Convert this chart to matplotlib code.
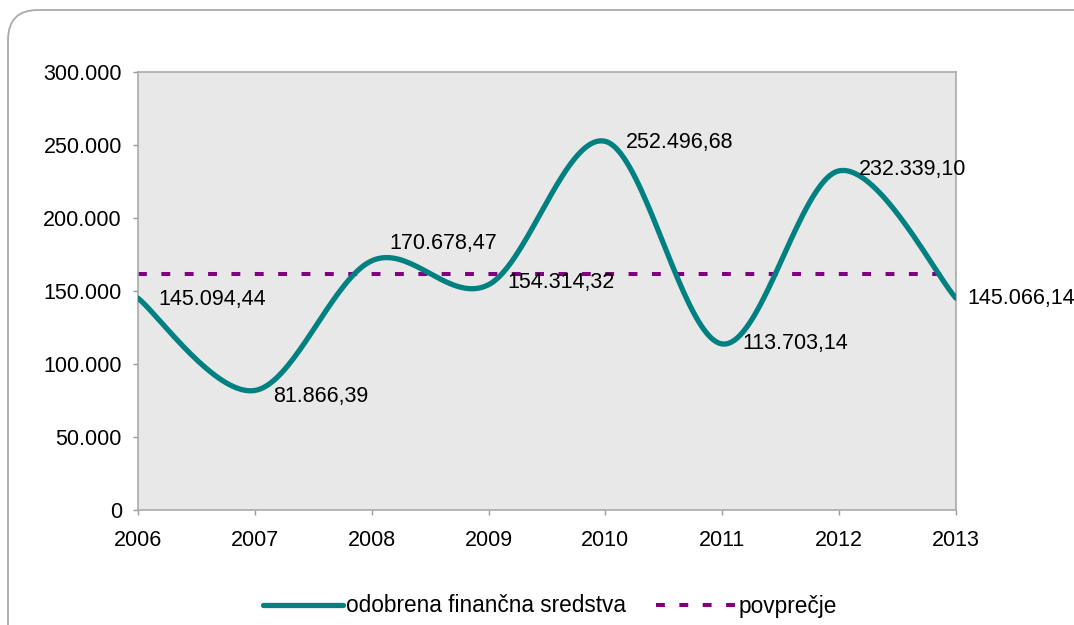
import numpy as np
import matplotlib
matplotlib.use("Agg")
import matplotlib.pyplot as plt
from matplotlib.patches import FancyBboxPatch
from matplotlib.lines import Line2D
from matplotlib.ticker import FuncFormatter
from matplotlib.transforms import IdentityTransform

plt.rcParams['font.family'] = ['Liberation Sans', 'DejaVu Sans']

# ---- data ----
years = [2006, 2007, 2008, 2009, 2010, 2011, 2012, 2013]
values = [145094.44, 81866.39, 170678.47, 154314.32, 252496.68, 113703.14, 232339.10, 145066.14]
labels = ["145.094,44", "81.866,39", "170.678,47", "154.314,32",
          "252.496,68", "113.703,14", "232.339,10", "145.066,14"]
average = 161944.84
y_ticks = [0, 50000, 100000, 150000, 200000, 250000, 300000]
series_name = "odobrena finančna sredstva"
avg_name = "povprečje"

# label offsets in pixels (dx, dy)
label_offsets = [(20, -1), (18, -6), (18, 17), (19, 2), (20, -1), (20, 0), (20, 1), (11, 0)]

W, H = 1074, 625
fig = plt.figure(figsize=(W / 100, H / 100), dpi=100)

# outer rounded frame (pixel coordinates)
frame = FancyBboxPatch((8, -60), W + 60, H - 10 + 60,
                       boxstyle="round,pad=0,rounding_size=30",
                       transform=IdentityTransform(), facecolor="none",
                       edgecolor="#aaaaaa", linewidth=1.3, zorder=-1)
fig.patches.append(frame)

ax = fig.add_axes([138 / W, (H - 510) / H, (956 - 138) / W, (510 - 72) / H])
ax.set_facecolor("#e8e8e8")

# smoothed curve (Catmull-Rom style cubic Bezier like Excel smoothing)
x = np.array(years, dtype=float)
y = np.array(values, dtype=float)
n = len(x)
xs, ys = [], []
t = np.linspace(0, 1, 40)
for i in range(n - 1):
    p0 = np.array([x[max(i - 1, 0)], y[max(i - 1, 0)]])
    p1 = np.array([x[i], y[i]])
    p2 = np.array([x[i + 1], y[i + 1]])
    p3 = np.array([x[min(i + 2, n - 1)], y[min(i + 2, n - 1)]])
    c1 = p1 + (p2 - p0) / 6.0
    c2 = p2 - (p3 - p1) / 6.0
    b = ((1 - t) ** 3)[:, None] * p1 + (3 * (1 - t) ** 2 * t)[:, None] * c1 \
        + (3 * (1 - t) * t ** 2)[:, None] * c2 + (t ** 3)[:, None] * p2
    xs.extend(b[:, 0])
    ys.extend(b[:, 1])

ax.plot(xs, ys, color="#008080", linewidth=3.8, solid_capstyle="round",
        solid_joinstyle="round", zorder=3)
ax.plot([years[0], years[-1]], [average, average], color="#800080",
        linewidth=2.9, linestyle=(0, (2.2, 3.6)), zorder=2)

for xi, yi, lab, (dx, dy) in zip(years, values, labels, label_offsets):
    ax.annotate(lab, (xi, yi), xytext=(dx, dy), textcoords="offset pixels",
                ha="left", va="center", fontsize=15.5, color="black",
                zorder=5, annotation_clip=False)

ax.set_xlim(years[0], years[-1])
ax.set_ylim(0, 300000)
ax.set_xticks(years)
ax.set_yticks(y_ticks)
ax.yaxis.set_major_formatter(FuncFormatter(lambda v, p: f"{int(v):,}".replace(",", ".")))
ax.tick_params(axis="both", direction="out", length=3.6, width=1, color="#999999",
               labelsize=15.5, labelcolor="black")
ax.tick_params(axis="y", pad=8)
ax.tick_params(axis="x", pad=11)
for s in ax.spines.values():
    s.set_color("#aaaaaa")
    s.set_linewidth(1.2)

handles = [Line2D([], [], color="#008080", linewidth=3.8, solid_capstyle="round"),
           Line2D([], [], color="#800080", linewidth=2.9, linestyle=(0, (2.2, 3.6)))]
fig.legend(handles, [series_name, avg_name], loc="center",
           bbox_to_anchor=(550 / W, 1 - 606 / H), ncol=2, frameon=False,
           fontsize=16.3, handlelength=3.5, handletextpad=0.15, columnspacing=1.3)

fig.savefig("out.png", dpi=100)
